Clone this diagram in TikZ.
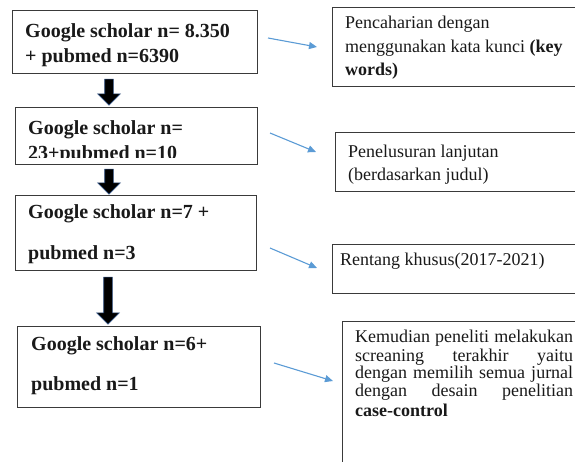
\documentclass[tikz,border=0pt]{standalone}
\usepackage{fontspec}
\setmainfont{Liberation Serif}
\usetikzlibrary{arrows.meta,shapes.arrows}
\definecolor{boxline}{HTML}{3A3A3A}
\definecolor{bluearr}{HTML}{5B9BD5}
\definecolor{arrline}{HTML}{2F4F7F}
\begin{document}
\begin{tikzpicture}[x=1pt,y=1pt,
  box/.style={draw=boxline,line width=1.1pt,rectangle,anchor=north west,inner sep=0pt},
  lt/.style={anchor=base west,inner sep=0pt,text=black!90,font=\fontsize{20}{24}\selectfont\bfseries},
  rt/.style={anchor=base west,inner sep=0pt,text=black!90,font=\fontsize{18}{22}\selectfont},
  blk/.style={single arrow,shape border rotate=270,fill=black,draw=arrline,line width=0.6pt,
     inner sep=4pt,single arrow head extend=7pt,single arrow tip angle=90,minimum width=22pt},
  blu/.style={draw=bluearr,line width=1.1pt,-{Triangle[length=8pt,width=7pt]}}]
\useasboundingbox (0,0) rectangle (575,-461);
\clip (0,0) rectangle (575,-461);
% left boxes
\node[box,minimum width=245pt,minimum height=63pt] (b1) at (12,-10) {};
\node[box,minimum width=242pt,minimum height=57pt] (b2) at (15,-107) {};
\node[box,minimum width=241pt,minimum height=75pt] (b3) at (15,-195) {};
\node[box,minimum width=243pt,minimum height=81pt] (b4) at (17,-326) {};
% right boxes
\node[box,minimum width=250pt,minimum height=79pt] (r1) at (332,-7) {};
\node[box,minimum width=250pt,minimum height=59pt] (r2) at (335,-132) {};
\node[box,minimum width=250pt,minimum height=49pt] (r3) at (332,-244) {};
\node[box,minimum width=250pt,minimum height=160pt] (r4) at (342,-321) {};
% left texts
\node[lt] (t1a) at (25,-37) {Google scholar n= 8.350};
\node[lt] (t1b) at (25,-62) {+ pubmed n=6390};
\begin{scope}
\clip (15,-107) rectangle (257,-157.5);
\node[lt] (t2a) at (28,-134) {Google scholar n=};
\node[lt] (t2b) at (28,-159) {23+pubmed n=10};
\end{scope}
\node[lt] (t3a) at (28,-218) {Google scholar n=7 +};
\node[lt] (t3b) at (28,-259) {pubmed n=3};
\node[lt] (t4a) at (31,-350) {Google scholar n=6+};
\node[lt] (t4b) at (31,-390) {pubmed n=1};
% right texts
\node[rt] (s1a) at (345,-28) {Pencaharian dengan};
\node[rt] (s1b) at (345,-52) {menggunakan kata kunci \textbf{(key}};
\node[rt] (s1c) at (345,-75) {\textbf{words)}};
\node[rt] (s2a) at (348,-157) {Penelusuran lanjutan};
\node[rt] (s2b) at (348,-180) {(berdasarkan judul)};
\node[rt] (s3a) at (340,-265) {Rentang khusus(2017-2021)};
\node[rt] (s4a) at (355,-342) {\makebox[218pt][s]{Kemudian peneliti melakukan}};
\node[rt] (s4b) at (355,-361) {\makebox[218pt][s]{screaning terakhir yaitu}};
\node[rt] (s4c) at (355,-378) {\makebox[218pt][s]{dengan memilih semua jurnal}};
\node[rt] (s4d) at (355,-396) {\makebox[218pt][s]{dengan desain penelitian}};
\node[rt] (s4e) at (355,-416) {\textbf{case-control}};
% black block arrows
\node[blk,minimum height=26pt] (k1) at (109,-90) {};
\node[blk,minimum height=25pt] (k2) at (109,-179.5) {};
\node[blk,minimum height=47pt] (k3) at (108,-298.5) {};
% blue arrows
\coordinate (a1s) at (268,-38);  \coordinate (a1e) at (317,-47);
\coordinate (a2s) at (270,-133); \coordinate (a2e) at (316,-152);
\coordinate (a3s) at (270,-248); \coordinate (a3e) at (317,-268);
\coordinate (a4s) at (274,-363); \coordinate (a4e) at (333,-381);
\draw[blu] (a1s) -- (a1e);
\draw[blu] (a2s) -- (a2e);
\draw[blu] (a3s) -- (a3e);
\draw[blu] (a4s) -- (a4e);
\end{tikzpicture}
\end{document}
